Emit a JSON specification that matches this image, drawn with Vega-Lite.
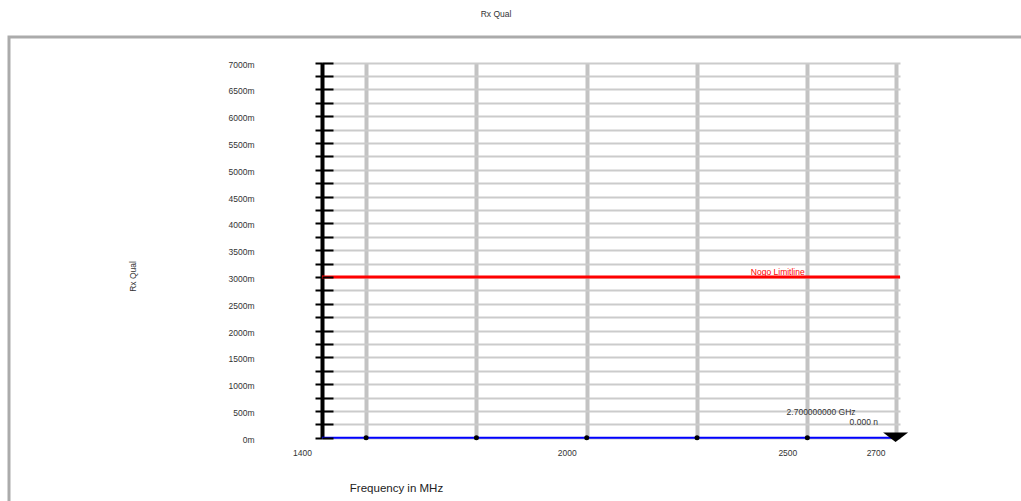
{
  "$schema": "https://vega.github.io/schema/vega-lite/v6.json",
  "width": 1017,
  "height": 472,
  "autosize": "none",
  "padding": {"left": 9, "top": 37, "right": -5, "bottom": -8},
  "background": "white",
  "title": {"text": "Rx Qual", "anchor": "middle", "dx": -21.5, "offset": 10, "baseline": "bottom", "fontSize": 8.5, "fontWeight": "normal", "font": "Liberation Sans", "color": "#333333"},
  "config": {
    "view": {"stroke": "#ababab", "strokeWidth": 3},
    "font": "Liberation Sans"
  },
  "datasets": {
    "trace": [
      {"freq": 1400, "level": 0},
      {"freq": 1500, "level": 0},
      {"freq": 1750, "level": 0},
      {"freq": 2000, "level": 0},
      {"freq": 2250, "level": 0},
      {"freq": 2500, "level": 0},
      {"freq": 2700, "level": 0}
    ],
    "limit": [
      {"freq": 1400, "level": 3000},
      {"freq": 2710, "level": 3000}
    ],
    "limitLabel": [
      {"freq": 2433, "level": 3000, "label": "Nogo Limitline"}
    ],
    "marker": [
      {"freq": 2700, "level": 0, "freqLabel": "2.700000000 GHz", "levelLabel": "0.000 n"}
    ]
  },
  "layer": [
    {
      "data": {"name": "trace"},
      "mark": {"type": "line", "color": "#0000ff", "strokeWidth": 2},
      "encoding": {
        "x": {
          "field": "freq", "type": "quantitative",
          "scale": {"domain": [1400, 2710], "range": [313, 891], "nice": false, "zero": false},
          "axis": {
            "orient": "bottom", "offset": -71.3,
            "values": [1400, 2000, 2500, 2700],
            "format": "d",
            "domain": false, "ticks": false, "tickSize": 0, "grid": false,
            "labelFont": "Liberation Sans", "labelFontSize": 8.5, "labelColor": "#333333",
            "labelPadding": 11, "labelOffset": -20, "labelBaseline": "top", "labelAlign": "center",
            "labelOverlap": false, "labelFlush": false, "labelBound": false,
            "title": "Frequency in MHz", "titleFont": "Liberation Sans", "titleFontSize": 11.5, "titleFontWeight": "normal", "titleColor": "#222222",
            "titleX": 387, "titleY": 50.3, "titleAlign": "center", "titleBaseline": "middle", "titleAngle": 0
          }
        },
        "y": {
          "field": "level", "type": "quantitative",
          "scale": {"domain": [0, 7000], "range": [400.7, 25.7], "nice": false, "zero": false},
          "axis": {
            "orient": "left", "offset": -313,
            "values": [0, 250, 500, 750, 1000, 1250, 1500, 1750, 2000, 2250, 2500, 2750, 3000, 3250, 3500, 3750, 4000, 4250, 4500, 4750, 5000, 5250, 5500, 5750, 6000, 6250, 6500, 6750, 7000],
            "labelExpr": "datum.value % 500 === 0 ? datum.value + 'm' : ''",
            "domain": true, "domainColor": "#000000", "domainWidth": 4,
            "ticks": true, "tickColor": "#000000", "tickWidth": 2, "tickSize": 7,
            "labelFont": "Liberation Sans", "labelFontSize": 8.5, "labelColor": "#333333",
            "labelPadding": 61, "labelAlign": "right", "labelBaseline": "middle", "labelOffset": 1.5,
            "labelOverlap": false, "labelFlush": false, "labelBound": false,
            "grid": true, "gridColor": "#cbcbcb", "gridWidth": 2,
            "title": "Rx Qual", "titleFont": "Liberation Sans", "titleFontSize": 8.5, "titleFontWeight": "normal", "titleColor": "#333333",
            "titleX": -190, "titleY": 239, "titleAngle": -90, "titleAlign": "center", "titleBaseline": "middle"
          }
        }
      }
    },
    {
      "data": {"name": "limit"},
      "mark": {"type": "line", "color": "#ff0000", "strokeWidth": 3},
      "encoding": {
        "x": {
          "field": "freq", "type": "quantitative",
          "scale": {"domain": [1400, 2710], "range": [313, 891], "nice": false, "zero": false},
          "axis": {
            "orient": "top", "offset": 0,
            "values": [1400, 1500, 1750, 2000, 2250, 2500, 2700],
            "domain": false, "ticks": false, "labels": false, "title": null,
            "grid": true,
            "gridColor": {"condition": {"test": "datum.value == 1400", "value": "transparent"}, "value": "#c3c3c3"},
            "gridWidth": 4
          }
        },
        "y": {
          "field": "level", "type": "quantitative",
          "scale": {"domain": [0, 7000], "range": [400.7, 25.7], "nice": false, "zero": false},
          "axis": {
            "orient": "right", "offset": -704,
            "values": [0, 250, 500, 750, 1000, 1250, 1500, 1750, 2000, 2250, 2500, 2750, 3000, 3250, 3500, 3750, 4000, 4250, 4500, 4750, 5000, 5250, 5500, 5750, 6000, 6250, 6500, 6750, 7000],
            "domain": false, "grid": false, "labels": false,
            "ticks": true, "tickColor": "#000000", "tickWidth": 2, "tickSize": 11,
            "title": null, "zindex": 1
          }
        }
      }
    },
    {
      "data": {"name": "trace"},
      "transform": [{"filter": "datum.freq > 1400 && datum.freq < 2700"}],
      "mark": {"type": "point", "filled": true, "color": "#000000", "size": 25, "opacity": 1},
      "encoding": {
        "x": {"field": "freq", "type": "quantitative", "scale": {"domain": [1400, 2710], "range": [313, 891], "nice": false, "zero": false}, "axis": null},
        "y": {"field": "level", "type": "quantitative", "scale": {"domain": [0, 7000], "range": [400.7, 25.7], "nice": false, "zero": false}, "axis": null}
      }
    },
    {
      "data": {"name": "marker"},
      "mark": {"type": "point", "filled": true, "color": "#000000", "size": 625, "opacity": 1, "shape": "M-1,-0.42L1,-0.42L0,0.35Z"},
      "encoding": {
        "x": {"field": "freq", "type": "quantitative", "scale": {"domain": [1400, 2710], "range": [313, 891], "nice": false, "zero": false}, "axis": null},
        "y": {"field": "level", "type": "quantitative", "scale": {"domain": [0, 7000], "range": [400.7, 25.7], "nice": false, "zero": false}, "axis": null}
      }
    },
    {
      "data": {"name": "marker"},
      "mark": {"type": "text", "align": "right", "baseline": "middle", "dx": -40, "dy": -25.7, "fontSize": 8.5, "font": "Liberation Sans", "color": "#333333"},
      "encoding": {
        "x": {"field": "freq", "type": "quantitative", "scale": {"domain": [1400, 2710], "range": [313, 891], "nice": false, "zero": false}, "axis": null},
        "y": {"field": "level", "type": "quantitative", "scale": {"domain": [0, 7000], "range": [400.7, 25.7], "nice": false, "zero": false}, "axis": null},
        "text": {"field": "freqLabel"}
      }
    },
    {
      "data": {"name": "marker"},
      "mark": {"type": "text", "align": "right", "baseline": "middle", "dx": -17.6, "dy": -15.7, "fontSize": 8.5, "font": "Liberation Sans", "color": "#333333"},
      "encoding": {
        "x": {"field": "freq", "type": "quantitative", "scale": {"domain": [1400, 2710], "range": [313, 891], "nice": false, "zero": false}, "axis": null},
        "y": {"field": "level", "type": "quantitative", "scale": {"domain": [0, 7000], "range": [400.7, 25.7], "nice": false, "zero": false}, "axis": null},
        "text": {"field": "levelLabel"}
      }
    },
    {
      "data": {"name": "limitLabel"},
      "mark": {"type": "text", "align": "center", "baseline": "middle", "dy": -4.5, "fontSize": 8.5, "font": "Liberation Sans", "color": "#ff0000"},
      "encoding": {
        "x": {"field": "freq", "type": "quantitative", "scale": {"domain": [1400, 2710], "range": [313, 891], "nice": false, "zero": false}, "axis": null},
        "y": {"field": "level", "type": "quantitative", "scale": {"domain": [0, 7000], "range": [400.7, 25.7], "nice": false, "zero": false}, "axis": null},
        "text": {"field": "label"}
      }
    }
  ],
  "resolve": {"axis": {"x": "independent", "y": "independent"}}
}
